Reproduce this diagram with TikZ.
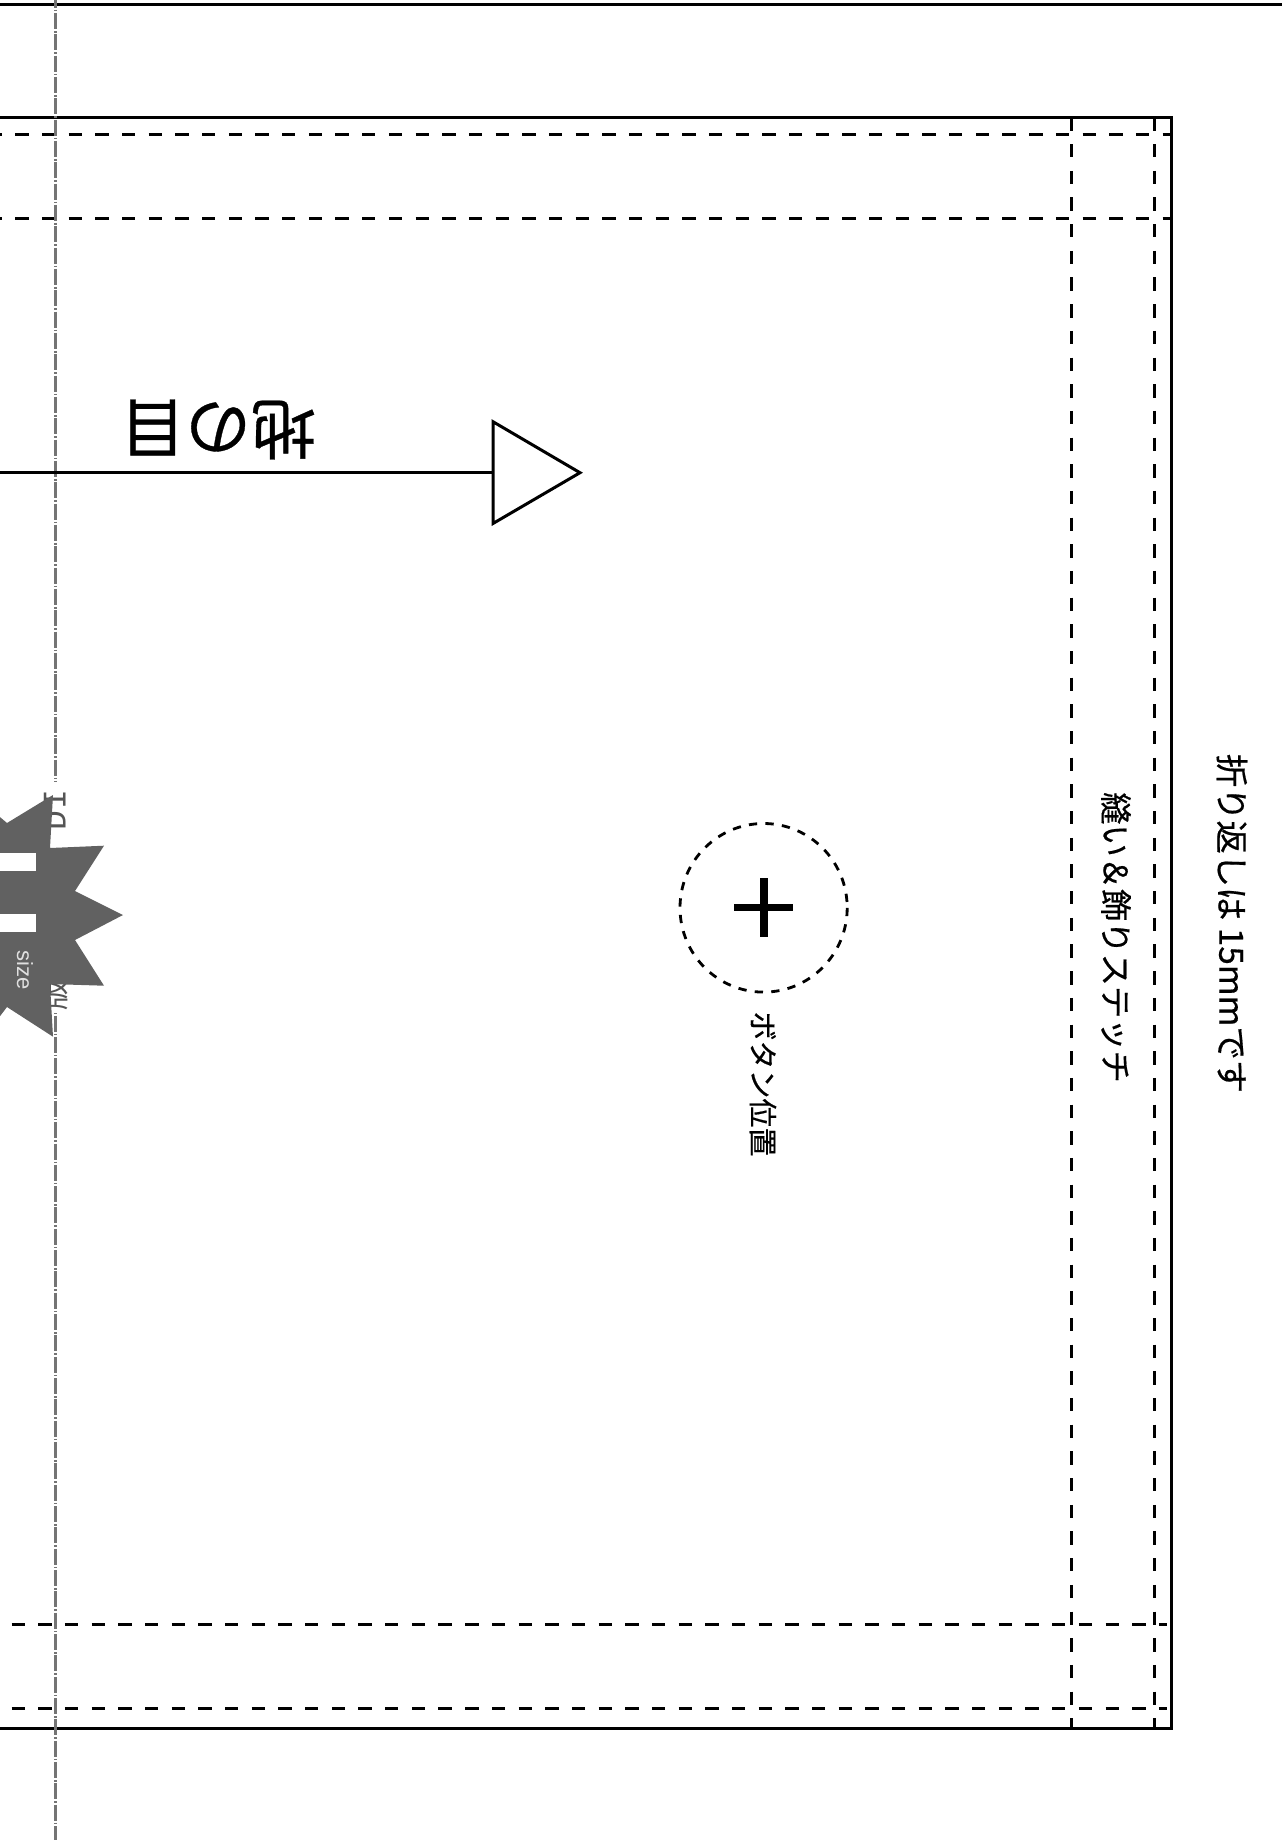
\documentclass[tikz,border=0pt]{standalone}
\usepackage{fontspec}
\newfontfamily\jpfont{Noto Sans CJK JP}[BoldFont={Noto Sans CJK JP},BoldFeatures={FakeBold=0.5}]
\newfontfamily\hvfont{Liberation Sans}
\newfontfamily\monofont{Liberation Mono}
\newcommand{\fsz}[1]{\fontsize{#1}{#1}\selectfont}
\definecolor{starc}{HTML}{616161}
\definecolor{foldc}{HTML}{747474}
\definecolor{brandc}{HTML}{555555}
\tikzset{
  solidline/.style={draw=black,line width=3pt},
  stitch/.style={draw=black,line width=3pt,dash pattern=on 13.34pt off 13.34pt},
  foldline/.style={draw=foldc,line width=2.7pt,dash pattern=on 16pt off 2pt on 1.6pt off 1.73pt,dash phase=8.33pt},
  jplabel/.style={inner sep=0pt,outer sep=0pt,text=black},
}
\begin{document}
\begin{tikzpicture}[x=1pt,y=-1pt]
\useasboundingbox (0,0) rectangle (1281.5,1840);
\fill[white] (0,0) rectangle (1283,1840);
% outlines
\coordinate (topL) at (-5,4);
\coordinate (topR) at (1288,4);
\draw[solidline] (topL) -- (topR);
\draw[solidline] (-5,117.5) -- (1171,117.5) -- (1171,1728) -- (-5,1728);
% stitches
\draw[stitch,dash phase=11.37pt] (0,134) -- (1171,134);
\draw[stitch,dash phase=11.37pt] (0,218.5) -- (1171,218.5);
\draw[stitch,dash phase=15.07pt] (0,1624) -- (1167,1624);
\draw[stitch,dash phase=15.07pt] (0,1708) -- (1167,1708);
\draw[stitch] (1071,117.4) -- (1071,1728);
\draw[stitch] (1154,117.4) -- (1154,1728);
% fold line
\coordinate (foldA) at (55.3,0);
\coordinate (foldB) at (55.3,781);
\coordinate (foldC) at (55.3,1013);
\coordinate (foldD) at (55.3,1840);
\draw[foldline] (foldA) -- (foldB);
\begin{scope}
\clip (40,1013) rectangle (70,1840);
\draw[foldline] (foldA) -- (foldD);
\end{scope}
% grey side text under the star
\node[rotate=90,anchor=base,inner sep=0pt,text=brandc,font=\monofont\fsz{33}] (brandA) at (65.5,810) {D\kern2ptI};
\node[rotate=90,anchor=base,inner sep=0pt,text=brandc,font=\jpfont\fsz{30}] (brandB) at (65.5,995) {版};
% star
\fill[starc] (-6,812) -- (7,823) -- (53,795) -- (50,848) -- (104,845.7) -- (75,891) -- (123,915)
  -- (75,940) -- (104,985.7) -- (50,984) -- (53,1036.7) -- (7,1007) -- (-6,1024) -- cycle;
\fill[white] (-2,853) rectangle (36,871);
\fill[white] (-2,914) rectangle (36,932);
\node[rotate=-90,inner sep=0pt,text=white!88!black,font=\hvfont\fsz{22}] (sizetxt) at (25,970.5) {size};
% grain arrow
\coordinate (grainS) at (-5,472.7);
\coordinate (triA) at (493,472.7);
\draw[solidline] (grainS) -- (triA);
\draw[solidline,line join=miter] (493,421.7) -- (580,472.7) -- (493,523.5) -- cycle;
\node[jplabel,rotate=180,font=\jpfont\bfseries\fsz{65.5}] (grain) at (218,429.5) {地の目};
% button
\draw[black,line width=2.8pt,dash pattern=on 8.3pt off 8.26pt] (763.6,907.8) ellipse [x radius=83.6,y radius=84.3];
\fill[black] (734,903.7) rectangle (793,911.4);
\fill[black] (759.6,878.3) rectangle (768,937);
\node[jplabel,rotate=-90,font=\jpfont\bfseries\fsz{29}] (btn) at (763,1084) {ボタン位置};
\node[jplabel,rotate=-90,font=\jpfont\bfseries\fsz{32.3}] (stitchtxt) at (1116,937.5) {縫い＆飾りステッチ};
\node[jplabel,rotate=-90,font=\jpfont\bfseries\fsz{33.3}] (foldtxt) at (1232,923.5) {折り返しは 15mmです};
\end{tikzpicture}
\end{document}
